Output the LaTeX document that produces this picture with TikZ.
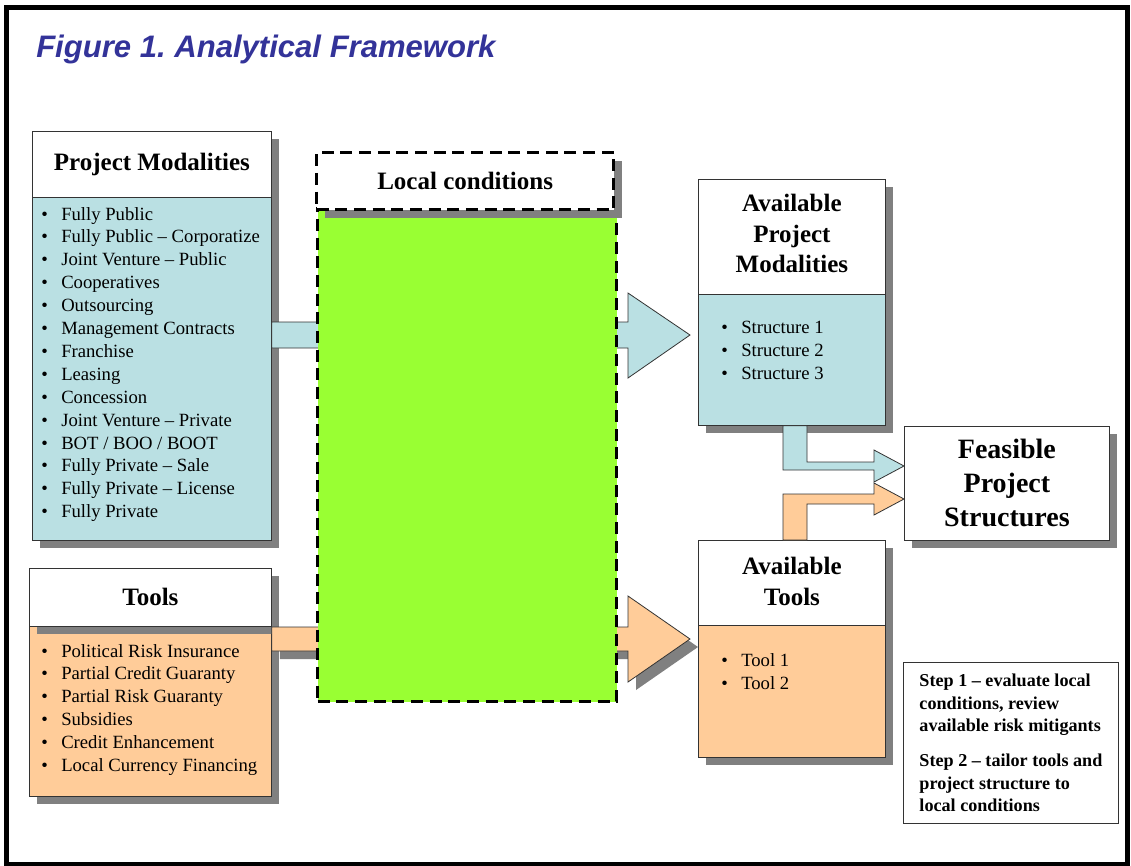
\documentclass[tikz,border=0pt]{standalone}
\usepackage{fontspec}
\setmainfont{Liberation Serif}
\newfontfamily\titlefont{Liberation Sans}
\usetikzlibrary{shadows}
\frenchspacing

\definecolor{titleblue}{RGB}{51,51,153}
\definecolor{pmblue}{RGB}{186,224,227}
\definecolor{tlorange}{RGB}{255,204,153}
\definecolor{lcgreen}{RGB}{153,255,51}
\definecolor{shadowgray}{RGB}{128,128,128}

\tikzset{
    box/.style={draw=black!80, line width=0.6pt, inner sep=0pt, anchor=north west},
    boxshadow/.style={drop shadow={shadow xshift=6pt, shadow yshift=-6pt, fill=shadowgray, opacity=1}},
    headtext/.style={font=\bfseries\fontsize{18.75}{22.9}\selectfont, align=center},
    item/.style={font=\fontsize{14}{17}\selectfont, inner sep=0pt, anchor=base west},
    dashbox/.style={draw=black, line width=2.25pt, dash pattern=on 9pt off 5pt},
    blueflow/.style={fill=pmblue, draw=black!80, line width=0.6pt},
    orangeflow/.style={fill=tlorange, draw=black!80, line width=0.6pt},
}
\newcommand{\bul}{\llap{\textbullet\hspace{10pt}}}

\begin{document}
\begin{tikzpicture}[x=0.75pt, y=-0.75pt]
    \useasboundingbox (0,0) rectangle (1131,865);
    \draw[line width=3.75pt] (6.8,7) rectangle (1127.5,864.5);

    % title
    \node[anchor=base west, inner sep=0pt, text=titleblue,
          font=\titlefont\bfseries\itshape\fontsize{23.3}{28}\selectfont] (title) at (36,57)
          {Figure 1. Analytical Framework};

    % project modalities
    \node[box, fill=white, boxshadow, headtext, minimum width=179.25pt, minimum height=49.5pt]
        (pmhead) at (32,131) {Project Modalities};
    \node[box, fill=pmblue, boxshadow, minimum width=179.25pt, minimum height=257.25pt]
        (pmbody) at (32,197) {};
    \foreach \txt [count=\i] in {Fully Public, Fully Public – Corporatize, Joint Venture – Public,
        Cooperatives, Outsourcing, Management Contracts, Franchise, Leasing, Concession,
        Joint Venture – Private, BOT / BOO / BOOT, Fully Private – Sale,
        Fully Private – License, Fully Private}
        \node[item] (pm\i) at (61,{220+22.9*(\i-1)}) {\bul\txt};

    % tools
    \node[box, fill=tlorange, boxshadow, minimum width=181.5pt, minimum height=127.5pt]
        (tlbody) at (29,626) {};
    \node[box, fill=white, boxshadow, headtext, minimum width=181.5pt, minimum height=43.5pt]
        (tlhead) at (29,568) {Tools};
    \foreach \txt [count=\i] in {Political Risk Insurance, Partial Credit Guaranty,
        Partial Risk Guaranty, Subsidies, Credit Enhancement, Local Currency Financing}
        \node[item] (tl\i) at (61,{657+22.8*(\i-1)}) {\bul\txt};

    % available project modalities
    \node[box, fill=white, boxshadow, headtext, minimum width=140.25pt, minimum height=86.25pt]
        (apmhead) at (698,179) {};
    \node[headtext, inner sep=0pt] (apmtitle) at ([yshift=2.5pt]apmhead.center) {Available\\Project\\Modalities};
    \node[box, fill=pmblue, boxshadow, minimum width=140.25pt, minimum height=98.25pt]
        (apmbody) at (698,294) {};
    \foreach \i in {1,2,3}
        \node[item] (apm\i) at (741,{333+23*(\i-1)}) {\bul Structure \i};

    % available tools
    \node[box, fill=white, boxshadow, headtext, minimum width=140.25pt, minimum height=63.75pt]
        (athead) at (698,540) {};
    \node[headtext, inner sep=0pt] (attitle) at ([yshift=1pt]athead.center) {Available\\Tools};
    \node[box, fill=tlorange, boxshadow, minimum width=140.25pt, minimum height=99pt]
        (atbody) at (698,625) {};
    \foreach \i in {1,2}
        \node[item] (at\i) at (741,{666+23*(\i-1)}) {\bul Tool \i};

    % feasible structures
    \node[box, fill=white, boxshadow, minimum width=153.75pt, minimum height=85.5pt, align=center,
          font=\bfseries\fontsize{21}{25.5}\selectfont]
        (feas) at (904,426) {Feasible\\Project\\Structures};

    % steps
    \node[box, minimum width=161.25pt, minimum height=120.75pt, align=left,
          font=\bfseries\fontsize{13.6}{16.9}\selectfont]
        (steps) at (903,662) {Step 1 – evaluate local\\conditions, review\\available risk mitigants\\[9.4pt]Step 2 – tailor tools and\\project structure to\\local conditions};

    % flows
    \draw[blueflow] (pmbody.east |- 0,322) -- (628,322) -- (628,293) -- (690,335)
        -- (628,378) -- (628,348) -- (pmbody.east |- 0,348) -- cycle;
    \draw[orangeflow, boxshadow] (tlbody.east |- 0,627) -- (628,627) -- (628,596) -- (690,639)
        -- (628,682) -- (628,651) -- (tlbody.east |- 0,651) -- cycle;
    \draw[blueflow] (783,0 |- apmbody.south) -- (807,0 |- apmbody.south) -- (807,462) -- (874,462)
        -- (874,450) -- (feas.west |- 0,466) -- (874,482) -- (874,470) -- (783,470) -- cycle;
    \draw[orangeflow] (783,0 |- athead.north) -- (783,494) -- (874,494) -- (874,483)
        -- (feas.west |- 0,499) -- (874,515) -- (874,504) -- (807,504) -- (807,0 |- athead.north) -- cycle;

    % local conditions
    \node[box, dashbox, fill=lcgreen, minimum width=224.25pt, minimum height=369.75pt]
        (lcbody) at (316,207) {};
    \node[box, dashbox, fill=white, boxshadow, headtext, minimum width=223pt, minimum height=42.75pt]
        (lchead) at (315,151) {Local conditions};
\end{tikzpicture}
\end{document}
